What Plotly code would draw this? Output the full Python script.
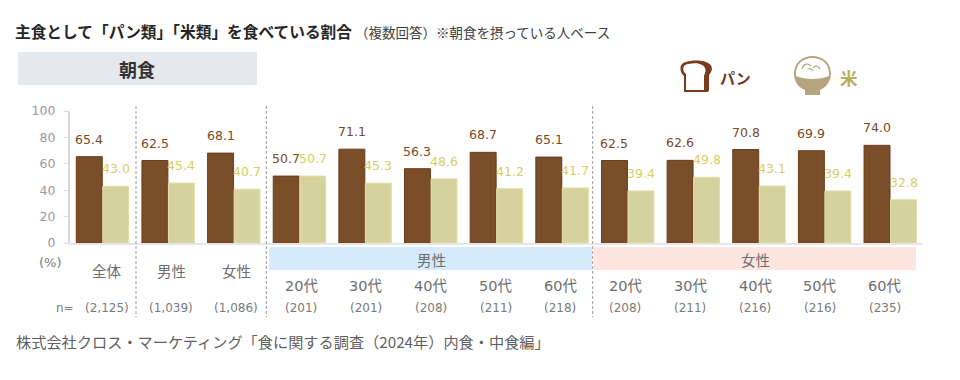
import plotly.graph_objects as go

W, H = 960, 380
categories = ["全体", "男性", "女性", "男性20代", "男性30代", "男性40代", "男性50代", "男性60代",
              "女性20代", "女性30代", "女性40代", "女性50代", "女性60代"]
axis_labels = ["全体", "男性", "女性", "20代", "30代", "40代", "50代", "60代",
               "20代", "30代", "40代", "50代", "60代"]
sample_sizes = ["(2,125)", "(1,039)", "(1,086)", "(201)", "(201)", "(208)", "(211)", "(218)",
                "(208)", "(211)", "(216)", "(216)", "(235)"]
bread = [65.4, 62.5, 68.1, 50.7, 71.1, 56.3, 68.7, 65.1, 62.5, 62.6, 70.8, 69.9, 74.0]
rice = [43.0, 45.4, 40.7, 50.7, 45.3, 48.6, 41.2, 41.7, 39.4, 49.8, 43.1, 39.4, 32.8]

LATIN = "DejaVu Sans, 'Noto Sans CJK JP', sans-serif"
CJK = "'Noto Sans CJK JP', sans-serif"
BROWN, BROWN_EDGE, BROWN_TXT = "#7B4E2A", "#6A3D1C", "#7A4A26"
RICE, RICE_EDGE, RICE_TXT = "#D6D29E", "#E2DDA6", "#D8CE62"


def px(x):
    return x / W


def py(y):
    return 1 - y / H


fig = go.Figure()
fig.add_bar(x=categories, y=bread, name="パン", marker=dict(color=BROWN, line=dict(color=BROWN_EDGE, width=1)))
fig.add_bar(x=categories, y=rice, name="米", marker=dict(color=RICE, line=dict(color=RICE_EDGE, width=1)))

anns = []


def text(x, y, s, size=14.5, color="#6E6E6E", anchor="center", font=LATIN):
    anns.append(dict(x=px(x), y=py(y), xref="paper", yref="paper", text=s, showarrow=False,
                     xanchor=anchor, yanchor="middle", font=dict(size=size, color=color, family=font)))


for c, b, r in zip(categories, bread, rice):
    for v, dx, col in ((b, -13.3, BROWN_TXT), (r, 13.3, RICE_TXT)):
        anns.append(dict(x=c, y=v, xref="x", yref="y", text=f"{v:.1f}", showarrow=False, xshift=dx, yshift=17.5,
                         xanchor="center", yanchor="middle", font=dict(size=12.5, color=col, family=LATIN)))

for i, (lab, n) in enumerate(zip(axis_labels, sample_sizes)):
    lx = 106.5 + i * 64.85
    text(lx, 272 if i < 3 else 286, lab)
    text(lx, 307.5, n, size=12, color="#7A7A7A")

text(12.5, 31, "<b>主食として「パン類」「米類」を食べている割合</b>", size=15.7, color="#262626", anchor="left", font=CJK)
text(353, 32.5, "（複数回答）※朝食を摂っている人ベース", size=13.5, color="#404040", anchor="left", font=CJK)
text(137, 69, "<b>朝食</b>", size=18, color="#333333", font=CJK)
text(50, 262, "(%)", size=13, color="#7A7A7A")
text(65, 307.5, "n=", size=12, color="#7A7A7A")
text(431, 261, "男性", color="#6E6E6E")
text(755, 261, "女性", color="#6E6E6E")
text(14, 340.5, "株式会社クロス・マーケティング「食に関する調査（2024年）内食・中食編」", size=15.2, color="#5F5F5F", anchor="left", font=CJK)
text(735.5, 78, "<b>パン</b>", size=15, color="#6B3A1E", font=CJK)
text(849, 78, "<b>米</b>", size=17.5, color="#B9AE5A", font=CJK)


def rect(x0, y0, x1, y1, color):
    return dict(type="rect", xref="paper", yref="paper", x0=px(x0), x1=px(x1), y0=py(y0), y1=py(y1),
                fillcolor=color, line_width=0, layer="below")


def path(points, fill, line=None, w=0):
    s = ""
    for cmd in points:
        s += cmd[0]
        nums = cmd[1:]
        s += " ".join(f"{px(nums[k]):.5f},{py(nums[k + 1]):.5f}" for k in range(0, len(nums), 2)) + " "
    return dict(type="path", xref="paper", yref="paper", path=s.strip(), fillcolor=fill,
                line=dict(color=line or fill, width=w))


shapes = [rect(18, 52, 257, 85, "#E5E8EE"), rect(269, 247, 592, 270, "#D5EAFD"), rect(594, 247, 916, 270, "#FEE5E0")]
for x in (136, 266.3, 592.7):
    shapes.append(dict(type="line", xref="paper", yref="paper", x0=px(x), x1=px(x), y0=py(106), y1=py(317),
                       line=dict(color="#9A9A9A", width=1, dash="3px,2px")))

# bread icon
shapes.append(path([("M", 684, 92), ("L", 684, 76), ("C", 679, 72, 679, 63, 686, 62), ("C", 692, 60, 701, 60, 706, 62),
                    ("C", 712, 64, 713, 69, 711, 72), ("C", 710, 74, 709, 74, 709, 77), ("L", 709, 90),
                    ("Q", 709, 92, 706, 92), ("Z",)], "#7A3B1A"))
shapes.append(path([("M", 686, 90), ("L", 686, 74), ("C", 682, 71, 682, 65, 688, 64), ("C", 694, 63, 699, 63, 702, 65),
                    ("C", 706, 67, 706, 71, 705, 73), ("L", 704, 76), ("L", 704, 90), ("Z",)], "#FFFFFF"))
# rice bowl icon
shapes.append(path([("M", 794, 74), ("C", 794, 62, 803, 56, 812.5, 56), ("C", 822, 56, 831, 62, 831, 74),
                    ("C", 831, 82, 825, 88, 820, 90), ("L", 820, 95), ("L", 805, 95), ("L", 805, 90),
                    ("C", 799, 88, 794, 82, 794, 74), ("Z",)], "#B5A57E"))
shapes.append(path([("M", 796, 76), ("C", 795, 64, 803, 58, 812.5, 58), ("C", 822, 58, 830, 64, 829, 76),
                    ("C", 820, 80, 805, 80, 796, 76), ("Z",)], "#FFFFFF"))
for sq in ([("M", 802, 69), ("C", 804, 63, 808, 63, 811, 66)], [("M", 813, 68), ("C", 815, 65, 819, 66, 820, 69)],
           [("M", 808, 69), ("C", 810, 68, 812, 69, 813, 71)]):
    sh = path(sq, "rgba(0,0,0,0)", "#B5A57E", 1.2)
    shapes.append(sh)

fig.update_layout(
    template="none",
    width=W, height=H, margin=dict(l=0, r=0, t=0, b=0, pad=0), autosize=False,
    paper_bgcolor="white", plot_bgcolor="white", showlegend=False,
    barmode="group", bargap=0.193, bargroupgap=0.02,
    annotations=anns, shapes=shapes,
    xaxis=dict(domain=[px(69.7), px(923.1)], type="category", categoryorder="array", categoryarray=categories,
               range=[-0.5, 12.5], showticklabels=False, ticks="", showline=True, linecolor="#E6E6E6", linewidth=2,
               showgrid=False, zeroline=False, automargin=False),
    yaxis=dict(domain=[py(243), py(111)], range=[0, 100], tickvals=[0, 20, 40, 60, 80, 100], ticks="outside",
               ticklen=4, tickcolor="#D9D9D9", tickwidth=1, showline=True, linecolor="#D9D9D9", linewidth=1.5,
               showgrid=False, zeroline=False, ticklabelstandoff=6, automargin=False,
               tickfont=dict(size=12.5, color="#9A9A9A", family=LATIN)),
)
fig.write_html("out.html", config={"displayModeBar": False}, post_script="document.body.style.margin='0';")
